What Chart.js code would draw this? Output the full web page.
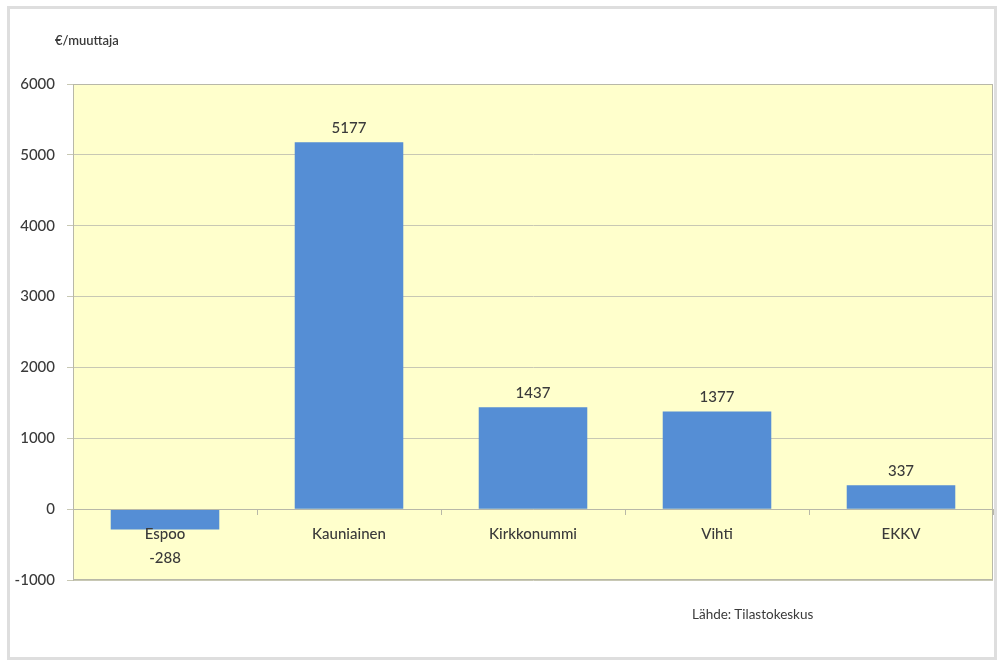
<!DOCTYPE html>
<html>
<head>
<meta charset="utf-8">
<script src="https://cdn.jsdelivr.net/npm/chart.js@4"></script>
<style>
  body { margin: 0; background: #fff; }
  #frame { position: absolute; left: 7px; top: 6px; width: 984px; height: 648px; border: 3px solid #dedede; }
  #wrap { position: absolute; left: 0; top: 0; width: 998px; height: 660px; }
  .note { position: absolute; font-family: Lato, "Open Sans", sans-serif; color: #3a3a3a; }
</style>
</head>
<body>
<div id="frame"></div>
<div id="wrap"><canvas id="muuttoChart" width="998" height="660"></canvas></div>
<div class="note" style="left:55px; top:32px; font-size:13px; font-weight:600;">€/muuttaja</div>
<div class="note" style="left:692px; top:606px; font-size:13.5px;">Lähde: Tilastokeskus</div>
<script>
var kunnat = ['Espoo', 'Kauniainen', 'Kirkkonummi', 'Vihti', 'EKKV'];
var arvot = [-288, 5177, 1437, 1377, 337];
var yMin = -1000;
var yMax = 6000;
var yStep = 1000;

var plotBackground = {
    id: 'plotBackground',
    beforeDraw: function (chart) {
        var a = chart.chartArea, c = chart.ctx;
        c.save();
        c.fillStyle = '#FFFFCC';
        c.fillRect(a.left, a.top, a.right - a.left, a.bottom - a.top);
        c.restore();
    },
    afterDraw: function (chart) {
        var a = chart.chartArea, c = chart.ctx;
        c.save();
        c.strokeStyle = '#b8b8a8';
        c.lineWidth = 1;
        c.strokeRect(a.left + 0.5, a.top + 0.5, a.right - a.left - 1, a.bottom - a.top - 1);
        c.restore();
    }
};

var barLabels = {
    id: 'barLabels',
    afterDatasetsDraw: function (chart) {
        var c = chart.ctx;
        var meta = chart.getDatasetMeta(0);
        c.save();
        c.font = '500 15px Lato, "Open Sans", sans-serif';
        c.fillStyle = '#3a3a3a';
        c.textAlign = 'center';
        c.textBaseline = 'middle';
        meta.data.forEach(function (bar, i) {
            var v = arvot[i];
            var y = v >= 0 ? bar.y - 14 : bar.y + 29;
            c.fillText(String(v), bar.x, y);
        });
        c.restore();
    }
};

var ctx = document.getElementById('muuttoChart').getContext('2d');
var muuttoChart = new Chart(ctx, {
    type: 'bar',
    data: {
        labels: kunnat,
        datasets: [{
            data: arvot,
            backgroundColor: '#558ED5',
            borderWidth: 0,
            barPercentage: 1,
            categoryPercentage: 0.59
        }]
    },
    options: {
        responsive: false,
        animation: false,
        layout: { padding: { top: 84, bottom: 80, right: 5, left: 0 } },
        plugins: {
            legend: { display: false },
            tooltip: { enabled: false }
        },
        scales: {
            x: {
                position: { y: 0 },
                grid: { drawOnChartArea: false, drawTicks: true, tickLength: 5, color: '#b8b8a8', offset: true },
                border: { color: '#b8b8a8', z: 1 },
                ticks: {
                    z: 1,
                    padding: 11,
                    color: '#3a3a3a',
                    font: { family: 'Lato, "Open Sans", sans-serif', size: 15, weight: 500 }
                }
            },
            y: {
                min: yMin,
                max: yMax,
                afterFit: function (scale) { scale.width = 73; },
                grid: { color: '#c8c8b4', tickLength: 6 },
                border: { color: '#b8b8a8' },
                ticks: {
                    stepSize: yStep,
                    padding: 12,
                    color: '#3a3a3a',
                    callback: function (v) { return String(v); },
                    font: { family: 'Lato, "Open Sans", sans-serif', size: 15, weight: 500 }
                }
            }
        }
    },
    plugins: [plotBackground, barLabels]
});
</script>
</body>
</html>
